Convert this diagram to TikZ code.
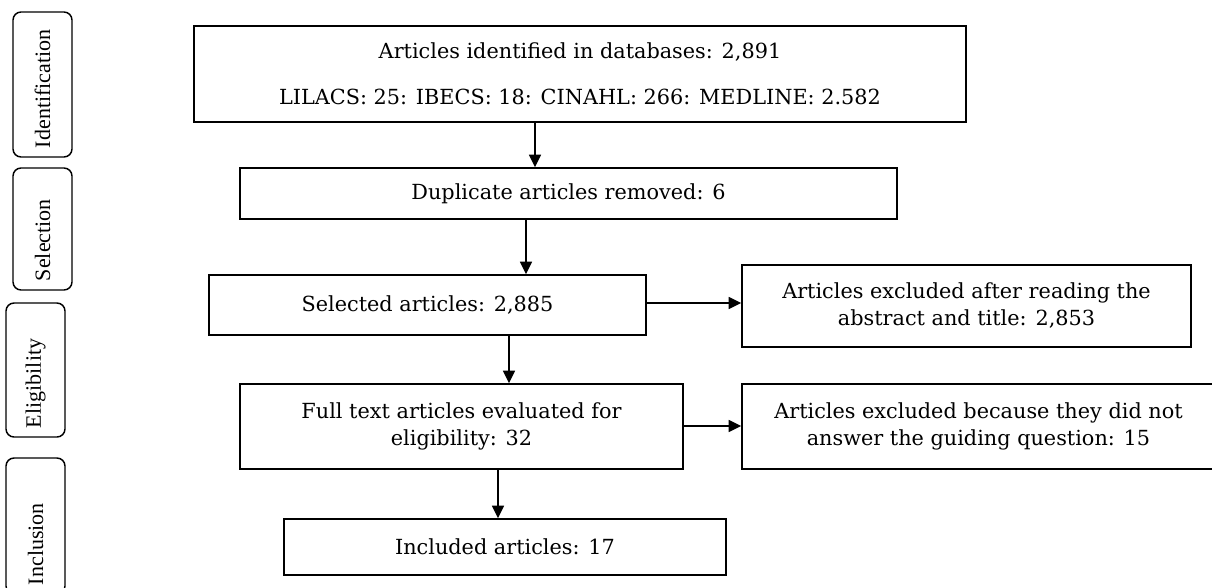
\documentclass[tikz,border=0pt]{standalone}
\usepackage{fontspec}
\setmainfont{Liberation Serif}
\newfontfamily\boxfont{DejaVu Serif}
\usetikzlibrary{arrows.meta}

\begin{document}
\begin{tikzpicture}[x=0.75pt, y=-0.75pt,
  box/.style={draw, line width=1.1pt, rectangle, align=center, inner sep=0pt, font=\boxfont\fontsize{15.6}{20.25}\selectfont},
  phase/.style={draw, line width=1.1pt, rounded corners=6pt, rotate=90, align=left, inner xsep=6.75pt, inner ysep=0pt, minimum height=44.25pt, font=\fontsize{16.5}{20.25}\selectfont},
  arr/.style={-{Triangle[length=9.5pt, width=9pt]}, line width=1.2pt}]
\useasboundingbox (0,0) rectangle (1212,588);
% phases on the left
\node[phase, text width=95.25pt] (idf) at (42.5, 84.5){Identification};
\node[phase, text width=78pt] (sln) at (42.5, 229){Selection};
\node[phase, text width=87pt] (elg) at (35.5, 370){Eligibility};
\node[phase, text width=88.5pt] (inl) at (35.5, 526){Inclusion};
% flow boxes
\node[box, minimum width=579pt, minimum height=72pt] (top) at (580, 74){Articles identified in databases: 2,891\\[14.25pt]LILACS: 25: IBECS: 18: CINAHL: 266: MEDLINE: 2.582};
\node[box, minimum width=492.75pt, minimum height=38.25pt] (dup) at (568.5, 193.5){Duplicate articles removed: 6};
\node[box, minimum width=327.75pt, minimum height=45pt] (sel) at (427.5, 305){Selected articles: 2,885};
\node[box, minimum width=332.25pt, minimum height=63.75pt] (ful) at (461.5, 426.5){Full text articles evaluated for\\eligibility: 32};
\node[box, minimum width=331.5pt, minimum height=42pt] (inc) at (505, 547){Included articles: 17};
\node[box, minimum width=336.75pt, minimum height=61.5pt] (ex1) at (966.5, 306){Articles excluded after reading the\\abstract and title: 2,853};
\node[box, minimum width=354.75pt, minimum height=63.75pt] (ex2) at (978.5, 426.5){Articles excluded because they did not\\answer the guiding question: 15};
% arrows
\draw[arr] (top.south -| 535,0) -- (dup.north -| 535,0);
\draw[arr] (dup.south -| 526,0) -- (sel.north -| 526,0);
\draw[arr] (sel.south -| 509,0) -- (ful.north -| 509,0);
\draw[arr] (ful.south -| 498,0) -- (inc.north -| 498,0);
\draw[arr] (sel.east |- 0,303) -- (ex1.west |- 0,303);
\draw[arr] (ful.east |- 0,426) -- (ex2.west |- 0,426);
\end{tikzpicture}
\end{document}
